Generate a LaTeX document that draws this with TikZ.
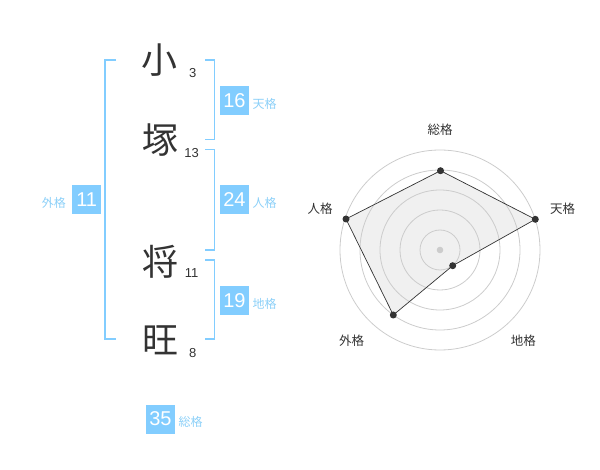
\documentclass[tikz,border=0pt]{standalone}
\usepackage{fontspec}
\setmainfont{Liberation Sans}
\newfontfamily\jp{Noto Sans CJK JP}
\definecolor{lb}{HTML}{82CDFF}
\definecolor{lbt}{HTML}{8CD0F8}
\definecolor{dk}{HTML}{333333}
\definecolor{ring}{HTML}{CCCCCC}
\definecolor{fillg}{HTML}{F0F0F0}
\begin{document}
\begin{tikzpicture}[x=1pt,y=-1pt,
  kanji/.style={font=\jp\fontsize{36}{36}\selectfont, text=dk, inner sep=0},
  strokes/.style={font=\fontsize{13}{13}\selectfont, text=dk, inner sep=0},
  valbox/.style={fill=lb, text=white, minimum width=29pt, minimum height=29pt, inner sep=0, font=\fontsize{20}{20}\selectfont},
  vlabel/.style={font=\jp\fontsize{12}{12}\selectfont, text=lbt, inner sep=0},
  bracket/.style={draw=lb, line width=1.5pt},
  rlabel/.style={font=\jp\fontsize{12.5}{12.5}\selectfont, text=dk, inner sep=0},
  dot/.style={circle, fill=dk, inner sep=0, minimum size=7pt}]
\useasboundingbox (0,0) rectangle (600,470);
% kanji
\node[kanji] (k1) at (159.5,60) {小};
\node[kanji] (k2) at (160,140) {塚};
\node[kanji] (k3) at (160,261.5) {将};
\node[kanji] (k4) at (160,340) {旺};
\node[strokes] (s1) at (192.7,72.7) {3};
\node[strokes] (s2) at (191.7,153.3) {13};
\node[strokes] (s3) at (191.7,272.7) {11};
\node[strokes] (s4) at (192.7,352.7) {8};
% brackets
\draw[bracket] (116,60) -- (105,60) -- (105,339) -- (116,339);
\draw[bracket] (205,60) -- (214.3,60) -- (214.3,139.3) -- (205,139.3);
\draw[bracket] (205,149.3) -- (214.3,149.3) -- (214.3,250) -- (205,250);
\draw[bracket] (205,260) -- (214.3,260) -- (214.3,339) -- (205,339);
% boxes
\node[valbox] (ten) at (234.5,100.5) {16};
\node[vlabel,anchor=west] (tenl) at (252.5,103.5) {天格};
\node[valbox] (jin) at (234.5,200) {24};
\node[vlabel,anchor=west] (jinl) at (252.5,203) {人格};
\node[valbox] (gai) at (86.7,200) {11};
\node[vlabel,anchor=east] (gail) at (66,203) {外格};
\node[valbox] (chi) at (234.5,300.5) {19};
\node[vlabel,anchor=west] (chil) at (252.5,303.5) {地格};
\node[valbox] (so) at (160.5,419) {35};
\node[vlabel,anchor=west] (sol) at (178.5,422) {総格};
% radar
\coordinate (c) at (440,250);
\coordinate (pso) at (440.5,170.7);
\coordinate (pten) at (535.3,219.3);
\coordinate (pchi) at (452.7,265.7);
\coordinate (pgai) at (393.3,315);
\coordinate (pjin) at (346,219);
\fill[fillg] (pso) -- (pten) -- (pchi) -- (pgai) -- (pjin) -- cycle;
\foreach \r in {20,40,60,80,100} \draw[ring, line width=0.8pt] (c) circle[radius=\r];
\fill[ring] (c) circle[radius=3.3];
\draw[dk, line width=0.7pt] (pso) -- (pten) -- (pchi) -- (pgai) -- (pjin) -- cycle;
\foreach \p in {pso,pten,pchi,pgai,pjin} \node[dot] at (\p) {};
\node[rlabel] (lso) at (440,130) {総格};
\node[rlabel] (lten) at (562.7,208.3) {天格};
\node[rlabel] (ljin) at (320,208.3) {人格};
\node[rlabel] (lgai) at (351.7,341) {外格};
\node[rlabel] (lchi) at (523.3,341) {地格};
\end{tikzpicture}
\end{document}
